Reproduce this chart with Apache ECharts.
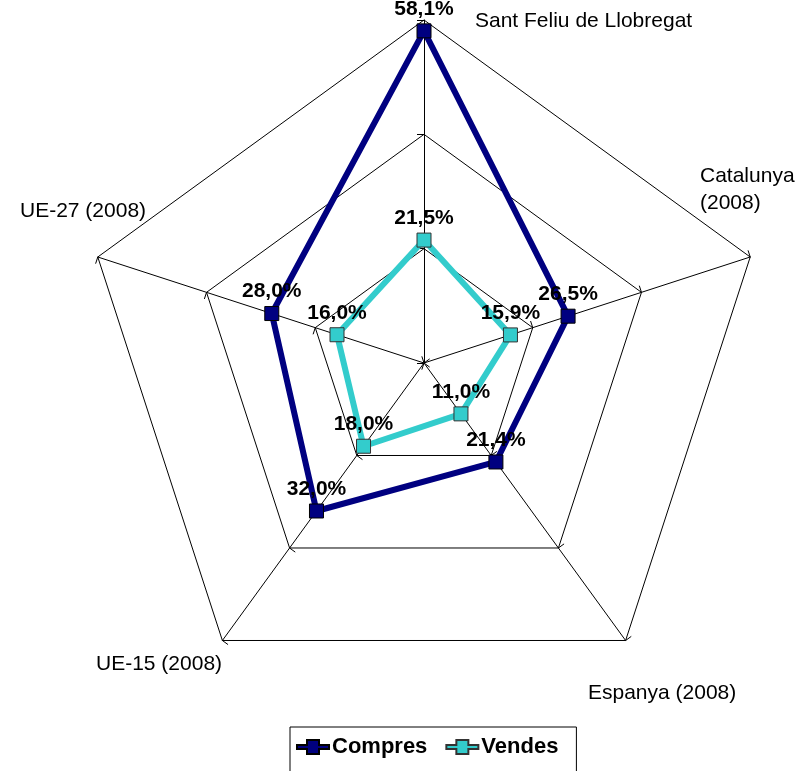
<!DOCTYPE html>
<html>
<head>
<meta charset="utf-8">
<script src="https://cdn.jsdelivr.net/npm/echarts@6/dist/echarts.min.js"></script>
<style>
  html, body { margin: 0; padding: 0; background: #fff; }
  #radar { width: 812px; height: 771px; }
</style>
</head>
<body>
<div id="radar"></div>
<script>
// Indicators in drawing order (ECharts goes counter-clockwise from the top)
const indicators = ["Sant Feliu de Llobregat", "UE-27 (2008)", "UE-15 (2008)", "Espanya (2008)", "Catalunya (2008)"];
const compres = [58.1, 28.0, 32.0, 21.4, 26.5];
const vendes = [21.5, 16.0, 18.0, 11.0, 15.9];
const seriesNames = ["Compres", "Vendes"];

const chart = echarts.init(document.getElementById("radar"));

const font = "Liberation Sans, Arial, sans-serif";

// Excel style square+line icon for the legend
const legendIcon = "path://M0,5 L10,5 L10,0 L22,0 L22,5 L32,5 L32,9 L22,9 L22,14 L10,14 L10,9 L0,9 Z";

// Labels sit where the original put them
const nameText = (text, x, y) => ({
    type: "text",
    left: x,
    top: y,
    style: { text: text, fill: "#000", font: "21px " + font, lineHeight: 27 }
});

const fmt = (p) => p.value.toFixed(1).replace(".", ",") + "%";

const option = {
    animation: false,
    backgroundColor: "#fff",
    legend: {
        data: seriesNames,
        icon: legendIcon,
        left: 290,
        top: 727,
        padding: [9, 18, 30, 6],
        itemWidth: 32,
        itemHeight: 14,
        itemGap: 18,
        borderColor: "#000",
        borderWidth: 1,
        textStyle: { fontFamily: font, fontSize: 22, fontWeight: "bold", color: "#000", padding: [0, 0, 0, -2] }
    },
    radar: {
        center: [424, 363],
        radius: 343,
        startAngle: 90,
        shape: "polygon",
        splitNumber: 3,
        indicator: indicators.map((n) => ({ name: n, min: 0, max: 60 })),
        axisName: { show: false },
        axisLine: { lineStyle: { color: "#000", width: 1 } },
        axisTick: { show: true, length: 7, lineStyle: { color: "#000" } },
        splitLine: { lineStyle: { color: "#000", width: 1 } },
        splitArea: { show: false }
    },
    series: [{
        type: "radar",
        symbol: "rect",
        symbolSize: 14,
        data: [
            {
                name: seriesNames[0],
                value: compres,
                lineStyle: { color: "#000080", width: 6 },
                itemStyle: { color: "#000080", borderColor: "#000", borderWidth: 1 },
                label: { show: true, position: "top", distance: 4, formatter: fmt }
            },
            {
                name: seriesNames[1],
                value: vendes,
                lineStyle: { color: "#33CCCC", width: 6 },
                itemStyle: { color: "#33CCCC", borderColor: "#333", borderWidth: 1 },
                label: { show: true, position: "top", distance: 4, formatter: fmt }
            }
        ],
        label: { fontFamily: font, fontSize: 21, fontWeight: "bold", color: "#000" }
    }],
    graphic: [
        nameText("Sant Feliu de Llobregat", 475, 8),
        nameText("Catalunya\n(2008)", 700, 163),
        nameText("Espanya (2008)", 588, 680),
        nameText("UE-15 (2008)", 96, 651),
        nameText("UE-27 (2008)", 20, 198)
    ]
};

chart.setOption(option);
</script>
</body>
</html>
